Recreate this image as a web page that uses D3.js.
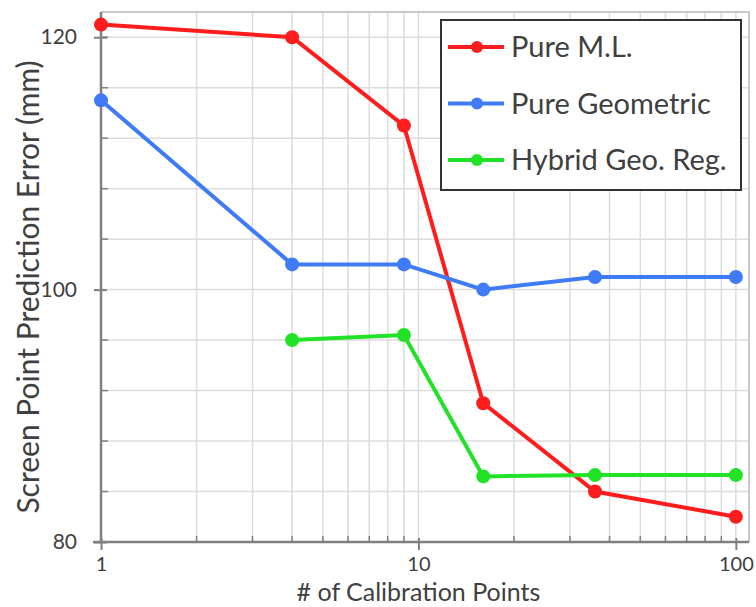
<!DOCTYPE html>
<html>
<head>
<meta charset="utf-8">
<script src="https://cdn.jsdelivr.net/npm/d3@7"></script>
<style>
  body { margin: 0; background: #fff; }
  text { font-family: Lato, "Open Sans", sans-serif; fill: #404040; }
</style>
</head>
<body>
<svg width="756" height="607"></svg>
<script>
const calibPoints = [1, 4, 9, 16, 36, 100];
const pureML = [121, 120, 113, 91, 84, 82];
const pureGeo = [115, 102, 102, 100, 101, 101];
const hybridX = [4, 9, 16, 36, 100];
const hybrid = [96, 96.4, 85.2, 85.3, 85.3];
const yMajor = [80, 100, 120];
const yMinor = [84, 88, 92, 96, 104, 108, 112, 116, 120];
const xMajor = [1, 10, 100];
const xMinor = [2, 3, 4, 5, 6, 7, 8, 9, 20, 30, 40, 50, 60, 70, 80, 90];

const series = [
  { name: "Pure M.L.", color: "#ff1c1c", pts: calibPoints.map((x, i) => [x, pureML[i]]) },
  { name: "Pure Geometric", color: "#3f7af7", pts: calibPoints.map((x, i) => [x, pureGeo[i]]) },
  { name: "Hybrid Geo. Reg.", color: "#22e228", pts: hybridX.map((x, i) => [x, hybrid[i]]) }
];

const svg = d3.select("svg");
const margin = { top: 12, right: 7, bottom: 65, left: 101 };
const width = 756 - margin.left - margin.right;
const height = 607 - margin.top - margin.bottom;
const g = svg.append("g").attr("transform", `translate(${margin.left},${margin.top})`);

const x = d3.scaleLog().domain([1, 110]).range([0, width]);
const y = d3.scaleLinear().domain([80, 122]).range([height, 0]);

// gridlines
g.append("g").selectAll("line")
  .data(xMinor.concat([10, 100]))
  .join("line")
  .attr("x1", d => x(d)).attr("x2", d => x(d))
  .attr("y1", 0).attr("y2", height)
  .attr("stroke", "#dcdcdc").attr("stroke-width", 1.5);

g.append("g").selectAll("line")
  .data(yMinor.concat([100]))
  .join("line")
  .attr("x1", 0).attr("x2", width)
  .attr("y1", d => y(d)).attr("y2", d => y(d))
  .attr("stroke", "#dcdcdc").attr("stroke-width", 1.5);

// plot border (top/right)
g.append("path")
  .attr("d", `M0,0H${width}V${height}`)
  .attr("fill", "none").attr("stroke", "#c8c8c8").attr("stroke-width", 2);

// minor ticks (inside)
g.append("g").selectAll("line")
  .data(yMinor)
  .join("line")
  .attr("x1", 0).attr("x2", 7)
  .attr("y1", d => y(d)).attr("y2", d => y(d))
  .attr("stroke", "#808080").attr("stroke-width", 1.5);
g.append("g").selectAll("line")
  .data(xMinor)
  .join("line")
  .attr("x1", d => x(d)).attr("x2", d => x(d))
  .attr("y1", height).attr("y2", height - 6)
  .attr("stroke", "#808080").attr("stroke-width", 1.5);

// Y axis
const yAxis = g.append("g")
  .call(d3.axisLeft(y).tickValues(yMajor).tickSize(7).tickPadding(17));
yAxis.selectAll(".tick line").attr("x1", 6).attr("stroke", "#808080").attr("stroke-width", 2);
yAxis.select(".domain").attr("stroke", "#808080").attr("stroke-width", 2.5).attr("d", `M0,0V${height}`);
yAxis.selectAll("text").style("font-size", "21px").attr("fill", "#404040");

// X axis
const xAxis = g.append("g")
  .attr("transform", `translate(0,${height})`)
  .call(d3.axisBottom(x).tickValues(xMajor).tickFormat(d3.format("d")).tickSize(8).tickPadding(7));
xAxis.selectAll(".tick line").attr("y1", -4).attr("stroke", "#808080").attr("stroke-width", 2);
xAxis.select(".domain").attr("stroke", "#808080").attr("stroke-width", 2.5).attr("d", `M-8,0H${width}`);
xAxis.selectAll("text").style("font-size", "20px").attr("fill", "#404040");

// axis titles
svg.append("text")
  .attr("x", margin.left + x(10))
  .attr("y", 601)
  .attr("text-anchor", "middle")
  .style("font-size", "25px")
  .text("# of Calibration Points");

svg.append("text")
  .attr("transform", `translate(39,287) rotate(-90)`)
  .attr("text-anchor", "middle")
  .style("font-size", "30px")
  .text("Screen Point Prediction Error (mm)");

// lines
const line = d3.line().x(d => x(d[0])).y(d => y(d[1]));
series.forEach(s => {
  g.append("path")
    .datum(s.pts)
    .attr("d", line)
    .attr("fill", "none")
    .attr("stroke", s.color)
    .attr("stroke-width", 4);
  g.append("g").selectAll("circle")
    .data(s.pts)
    .join("circle")
    .attr("cx", d => x(d[0]))
    .attr("cy", d => y(d[1]))
    .attr("r", 7)
    .attr("fill", s.color);
});

// legend
const legend = svg.append("g").attr("transform", "translate(441,20)");
legend.append("rect")
  .attr("width", 300).attr("height", 170)
  .attr("fill", "#fff").attr("stroke", "#333").attr("stroke-width", 2);
series.forEach((s, i) => {
  const row = legend.append("g").attr("transform", `translate(0,${27 + i * 56.5})`);
  row.append("line").attr("x1", 7).attr("x2", 63)
    .attr("stroke", s.color).attr("stroke-width", 4);
  row.append("circle").attr("cx", 36).attr("r", 6).attr("fill", s.color);
  row.append("text").attr("x", 70).attr("dy", "0.35em")
    .style("font-size", "29px").attr("fill", "#333")
    .text(s.name);
});
</script>
</body>
</html>
